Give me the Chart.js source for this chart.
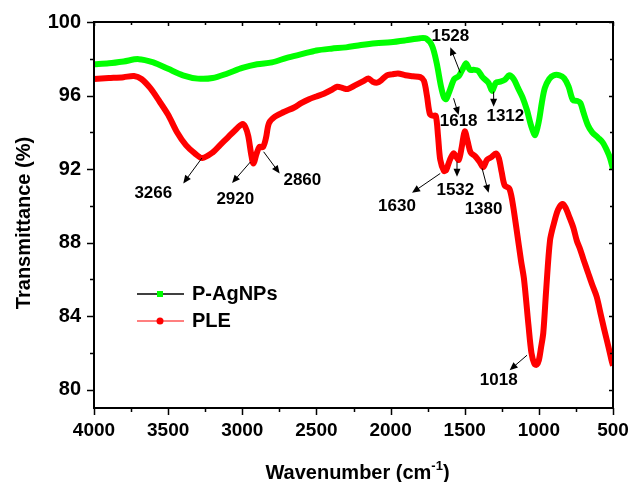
<!DOCTYPE html>
<html>
<head>
<meta charset="utf-8">
<script src="https://cdn.jsdelivr.net/npm/chart.js@4.4.1/dist/chart.umd.min.js"></script>
<style>
  html, body { margin: 0; padding: 0; background: #fff; }
  #wrap { width: 630px; height: 482px; }
</style>
</head>
<body>
<div id="wrap"><canvas id="ftir" width="630" height="482"></canvas></div>
<script>
// wavenumber (cm-1) and transmittance (%)
const agWave = [4000, 3900, 3800, 3700, 3600, 3500, 3400, 3300, 3200, 3100, 3000, 2900, 2800, 2700, 2600, 2500, 2400, 2300, 2200, 2100, 2000, 1900, 1800, 1760, 1720, 1690, 1660, 1640, 1625, 1600, 1570, 1540, 1510, 1490, 1465, 1440, 1410, 1380, 1340, 1315, 1290, 1260, 1230, 1200, 1170, 1140, 1110, 1080, 1050, 1025, 1000, 980, 960, 930, 900, 860, 830, 800, 770, 740, 720, 700, 670, 640, 600, 570, 540, 520, 500];
const agTrans = [97.7, 97.75, 97.85, 97.98, 97.8, 97.45, 97.1, 96.92, 96.95, 97.2, 97.5, 97.7, 97.8, 98.05, 98.25, 98.45, 98.55, 98.62, 98.75, 98.85, 98.9, 99.0, 99.12, 99.1, 98.7, 97.8, 96.5, 95.9, 95.8, 96.3, 96.9, 97.05, 97.5, 97.75, 97.4, 97.4, 97.35, 97.0, 96.7, 96.25, 96.7, 96.75, 96.85, 97.1, 96.9, 96.4, 95.9, 95.2, 94.3, 93.85, 94.6, 95.6, 96.4, 96.9, 97.1, 97.1, 96.95, 96.5, 95.75, 95.7, 95.6, 95.1, 94.4, 94.0, 93.7, 93.45, 93.0, 92.6, 92.0];

const pleWave = [4000, 3900, 3800, 3730, 3680, 3620, 3560, 3500, 3440, 3380, 3320, 3270, 3200, 3150, 3100, 3050, 3000, 2980, 2960, 2940, 2925, 2905, 2885, 2860, 2840, 2820, 2780, 2720, 2650, 2600, 2550, 2500, 2450, 2400, 2360, 2320, 2290, 2240, 2180, 2150, 2120, 2090, 2060, 2025, 1990, 1950, 1900, 1850, 1800, 1775, 1755, 1735, 1715, 1695, 1680, 1665, 1640, 1625, 1600, 1575, 1560, 1540, 1520, 1500, 1480, 1460, 1430, 1400, 1375, 1350, 1320, 1290, 1270, 1250, 1230, 1200, 1180, 1150, 1120, 1100, 1070, 1050, 1030, 1015, 1000, 985, 970, 950, 925, 900, 870, 840, 820, 790, 767, 744, 720, 700, 670, 640, 610, 580, 560, 530, 510, 500];
const pleTrans = [96.9, 96.95, 97.0, 97.06, 96.9, 96.4, 95.7, 94.95, 94.0, 93.3, 92.85, 92.6, 92.9, 93.3, 93.7, 94.1, 94.45, 94.3, 93.8, 92.8, 92.3, 92.8, 93.2, 93.2, 93.7, 94.5, 94.85, 95.1, 95.35, 95.6, 95.8, 95.95, 96.1, 96.3, 96.48, 96.4, 96.35, 96.55, 96.8, 96.93, 96.75, 96.7, 96.85, 97.1, 97.15, 97.2, 97.1, 97.05, 97.0, 96.8, 96.0, 95.0, 94.9, 94.9, 93.8, 92.5, 91.9, 91.95, 92.5, 92.85, 92.7, 92.5, 93.2, 94.05, 93.5, 92.9, 92.7, 92.4, 92.1, 92.5, 92.65, 92.85, 92.6, 91.8, 91.1, 90.95, 90.3, 88.7, 87.0, 86.0, 83.5, 82.0, 81.4, 81.35, 81.6, 82.3, 83.1, 85.5, 88.1, 89.0, 89.8, 90.1, 89.9, 89.3, 88.8, 88.1, 87.6, 87.1, 86.4, 85.7, 85.05, 84.0, 83.3, 82.3, 81.6, 81.3];

const seriesNames = ['P-AgNPs', 'PLE'];
const xTicks = [4000, 3500, 3000, 2500, 2000, 1500, 1000, 500];
const yTicks = [80, 84, 88, 92, 96, 100];

// peak labels: text, label position, arrow start, arrow end (all in data units)
const notes = [
    { text: '3266', at: [3600, 90.69], from: [3272, 92.6], to: [3398, 91.22] },
    { text: '2920', at: [3047, 90.35], from: [2946, 92.38], to: [3069, 91.24] },
    { text: '2860', at: [2595, 91.40], from: [2856, 92.94], to: [2748, 91.76] },
    { text: '1528', at: [1597, 99.2], from: [1530, 97.24], to: [1597, 98.62] },
    { text: '1618', at: [1541, 94.57], from: [1575, 95.85], to: [1541, 94.94] },
    { text: '1312', at: [1226, 94.88], from: [1305, 96.21], to: [1305, 95.39] },
    { text: '1630', at: [1957, 89.95], from: [1665, 91.76], to: [1855, 90.71] },
    { text: '1532', at: [1563, 90.82], from: [1552, 92.4], to: [1552, 91.58] },
    { text: '1380', at: [1373, 89.8], from: [1383, 92.04], to: [1339, 90.71] },
    { text: '1018', at: [1271, 80.51], from: [1080, 81.87], to: [1197, 81.06] }
];

const FONT = '"Liberation Sans", Arial, sans-serif';

function toPoints(xs, ys) {
    return xs.map((x, i) => ({ x: x, y: ys[i] }));
}

function midpoints(arr) {
    const out = [];
    for (let i = 0; i < arr.length - 1; i++) out.push((arr[i] + arr[i + 1]) / 2);
    return out;
}

const framePlugin = {
    id: 'frame',
    afterDatasetsDraw(chart) {
        const ctx = chart.ctx;
        const a = chart.chartArea;
        const xs = chart.scales.x, ys = chart.scales.y;
        ctx.save();

        // box
        ctx.strokeStyle = '#000';
        ctx.lineWidth = 2;
        ctx.strokeRect(a.left, a.top, a.right - a.left, a.bottom - a.top);

        // ticks
        ctx.lineWidth = 1.5;
        ctx.beginPath();
        xTicks.forEach(v => {
            const p = Math.round(xs.getPixelForValue(v)) + 0.5;
            ctx.moveTo(p, a.bottom); ctx.lineTo(p, a.bottom + 7);
            ctx.moveTo(p, a.top); ctx.lineTo(p, a.top + 4);
        });
        midpoints(xTicks).forEach(v => {
            const p = Math.round(xs.getPixelForValue(v)) + 0.5;
            ctx.moveTo(p, a.bottom); ctx.lineTo(p, a.bottom + 4);
            ctx.moveTo(p, a.top); ctx.lineTo(p, a.top + 3);
        });
        yTicks.forEach(v => {
            const p = Math.round(ys.getPixelForValue(v)) + 0.5;
            ctx.moveTo(a.left, p); ctx.lineTo(a.left - 7, p);
            ctx.moveTo(a.right, p); ctx.lineTo(a.right - 4, p);
        });
        midpoints(yTicks).forEach(v => {
            const p = Math.round(ys.getPixelForValue(v)) + 0.5;
            ctx.moveTo(a.left, p); ctx.lineTo(a.left - 4, p);
            ctx.moveTo(a.right, p); ctx.lineTo(a.right - 3, p);
        });
        ctx.stroke();

        // peak labels with arrows
        ctx.fillStyle = '#000';
        ctx.font = 'bold 17px ' + FONT;
        ctx.textAlign = 'center';
        ctx.textBaseline = 'middle';
        notes.forEach(n => {
            const tx = xs.getPixelForValue(n.at[0]), ty = ys.getPixelForValue(n.at[1]);
            ctx.fillText(n.text, tx, ty);
            const x1 = xs.getPixelForValue(n.from[0]), y1 = ys.getPixelForValue(n.from[1]);
            const x2 = xs.getPixelForValue(n.to[0]), y2 = ys.getPixelForValue(n.to[1]);
            const ang = Math.atan2(y2 - y1, x2 - x1);
            const hl = 8, hw = 3.5;
            ctx.lineWidth = 1;
            ctx.beginPath();
            ctx.moveTo(x1, y1);
            ctx.lineTo(x2 - hl * 0.8 * Math.cos(ang), y2 - hl * 0.8 * Math.sin(ang));
            ctx.stroke();
            ctx.beginPath();
            ctx.moveTo(x2, y2);
            ctx.lineTo(x2 - hl * Math.cos(ang) - hw * Math.sin(ang), y2 - hl * Math.sin(ang) + hw * Math.cos(ang));
            ctx.lineTo(x2 - hl * Math.cos(ang) + hw * Math.sin(ang), y2 - hl * Math.sin(ang) - hw * Math.cos(ang));
            ctx.closePath();
            ctx.fill();
        });

        // legend
        const lx = a.left + 43, ly = a.top + 272;
        ctx.lineWidth = 1.5;
        ctx.strokeStyle = '#000';
        ctx.beginPath(); ctx.moveTo(lx, ly); ctx.lineTo(lx + 47, ly); ctx.stroke();
        ctx.fillStyle = '#00ff00';
        ctx.fillRect(lx + 20, ly - 3, 6, 6);
        ctx.lineWidth = 2;
        ctx.strokeStyle = 'rgba(255,0,0,0.5)';
        ctx.beginPath(); ctx.moveTo(lx, ly + 27); ctx.lineTo(lx + 47, ly + 27); ctx.stroke();
        ctx.fillStyle = '#ff0000';
        ctx.beginPath(); ctx.arc(lx + 23, ly + 27, 3.5, 0, Math.PI * 2); ctx.fill();
        ctx.fillStyle = '#000';
        ctx.font = 'bold 20px ' + FONT;
        ctx.textAlign = 'left';
        ctx.fillText(seriesNames[0], lx + 55, ly);
        ctx.fillText(seriesNames[1], lx + 55, ly + 27);

        // axis titles
        ctx.font = 'bold 20px ' + FONT;
        ctx.textAlign = 'center';
        ctx.textBaseline = 'alphabetic';
        ctx.save();
        ctx.translate(30, (a.top + a.bottom) / 2 + 8);
        ctx.rotate(-Math.PI / 2);
        ctx.fillText('Transmittance (%)', 0, 0);
        ctx.restore();

        const main = 'Wavenumber (cm', sup = '-1', close = ')';
        const wMain = ctx.measureText(main).width;
        ctx.font = 'bold 13px ' + FONT;
        const wSup = ctx.measureText(sup).width;
        ctx.font = 'bold 20px ' + FONT;
        const wClose = ctx.measureText(close).width;
        let sx = (a.left + a.right) / 2 + 4 - (wMain + wSup + wClose) / 2;
        const base = 479;
        ctx.textAlign = 'left';
        ctx.fillText(main, sx, base);
        sx += wMain;
        ctx.font = 'bold 13px ' + FONT;
        ctx.fillText(sup, sx, base - 9);
        sx += wSup;
        ctx.font = 'bold 20px ' + FONT;
        ctx.fillText(close, sx, base);

        ctx.restore();
    }
};

new Chart(document.getElementById('ftir').getContext('2d'), {
    type: 'line',
    data: {
        datasets: [
            {
                label: seriesNames[0],
                data: toPoints(agWave, agTrans),
                borderColor: '#00ff00',
                borderWidth: 6,
                pointRadius: 0,
                tension: 0.3,
                fill: false
            },
            {
                label: seriesNames[1],
                data: toPoints(pleWave, pleTrans),
                borderColor: '#ff0000',
                borderWidth: 6,
                pointRadius: 0,
                tension: 0.3,
                fill: false
            }
        ]
    },
    options: {
        responsive: false,
        animation: false,
        layout: { padding: { left: 0, right: 17, top: 22, bottom: 0 } },
        plugins: {
            legend: { display: false },
            tooltip: { enabled: false }
        },
        scales: {
            x: {
                type: 'linear',
                reverse: true,
                min: 500,
                max: 4000,
                afterBuildTicks: s => { s.ticks = xTicks.map(v => ({ value: v })); },
                afterFit: s => { s.height = 74; s.paddingLeft = 0; s.paddingRight = 0; },
                grid: { display: false, drawTicks: false },
                border: { display: false },
                ticks: {
                    color: '#000',
                    font: { family: FONT, size: 19, weight: 'bold' },
                    padding: 11,
                    maxRotation: 0,
                    autoSkip: false,
                    callback: v => String(v)
                }
            },
            y: {
                type: 'linear',
                min: 79,
                max: 100,
                afterBuildTicks: s => { s.ticks = yTicks.map(v => ({ value: v })); },
                afterFit: s => { s.width = 94; s.paddingTop = 0; s.paddingBottom = 0; },
                grid: { display: false, drawTicks: false },
                border: { display: false },
                ticks: {
                    color: '#000',
                    font: { family: FONT, size: 20, weight: 'bold' },
                    padding: 13,
                    autoSkip: false,
                    callback: v => String(v)
                }
            }
        }
    },
    plugins: [framePlugin]
});
</script>
</body>
</html>
